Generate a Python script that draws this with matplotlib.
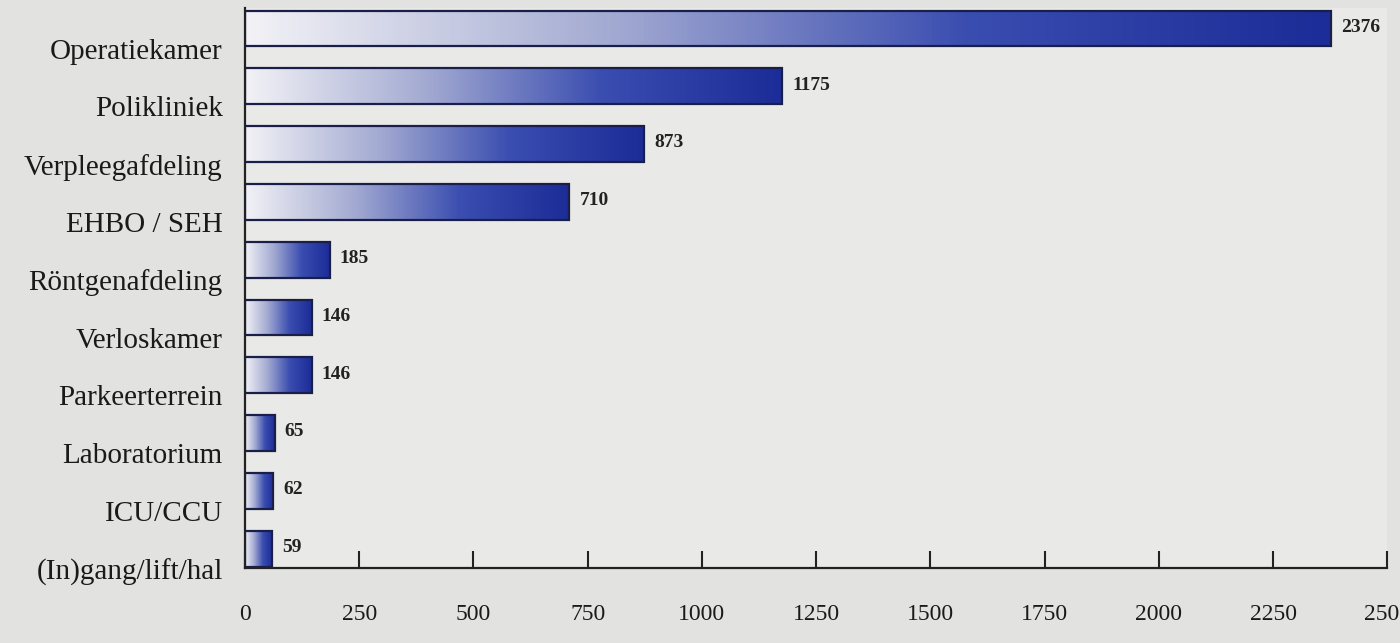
import numpy as np
import matplotlib
matplotlib.use('Agg')
import matplotlib.pyplot as plt
import matplotlib.transforms as mtransforms
from matplotlib.colors import LinearSegmentedColormap

plt.rcParams['font.family'] = ['Liberation Serif', 'DejaVu Serif']

# data
categories = ['Operatiekamer', 'Polikliniek', 'Verpleegafdeling', 'EHBO / SEH',
              'Röntgenafdeling', 'Verloskamer', 'Parkeerterrein', 'Laboratorium',
              'ICU/CCU', '(In)gang/lift/hal']
values = [2376, 1175, 873, 710, 185, 146, 146, 65, 62, 59]
xticks = [0, 250, 500, 750, 1000, 1250, 1500, 1750, 2000, 2250, 2500]

fig = plt.figure(figsize=(14, 6.43), dpi=100, facecolor='#e2e2e0')
ax = fig.add_axes([0.175, 0.117, 0.816, 0.871])
ax.set_facecolor('#e9e9e7')

cmap = LinearSegmentedColormap.from_list('bar', ['#f2f2f6', '#a4abd2', '#3a4db0', '#1c2c98'])
grad = np.linspace(0, 1, 256).reshape(1, -1)
h = 0.62

ypos = np.arange(len(categories))
bars = ax.barh(ypos, values, height=h, facecolor='none', edgecolor='#1a1f4a',
               linewidth=1.6, zorder=3)
for b, v, y in zip(bars, values, ypos):
    im = ax.imshow(grad, cmap=cmap, aspect='auto', interpolation='bicubic',
                   extent=[0, v, y + h / 2, y - h / 2], zorder=2)
    im.set_clip_path(b)
    ax.text(v + 22, y - 0.02, str(v), va='center', ha='left', fontsize=14,
            fontweight='bold', color='#222222', zorder=4)

ax.set_xlim(0, 2500)
ax.set_ylim(9.33, -0.36)

ax.set_yticks(ypos)
ax.set_yticklabels(categories, fontsize=21, color='#1a1a1a')
ax.tick_params(axis='y', length=0, pad=16)
offset = mtransforms.ScaledTranslation(0, -0.2, fig.dpi_scale_trans)
for lab in ax.get_yticklabels():
    lab.set_transform(lab.get_transform() + offset)

ax.set_xticks(xticks)
ax.set_xticklabels([str(t) for t in xticks], fontsize=17, color='#1a1a1a')
ax.tick_params(axis='x', direction='in', length=12, width=1.5, pad=26, color='#222222')

for s in ['top', 'right']:
    ax.spines[s].set_visible(False)
for s in ['left', 'bottom']:
    ax.spines[s].set_linewidth(1.6)
    ax.spines[s].set_color('#222222')

fig.savefig('out.png', dpi=100, facecolor=fig.get_facecolor())
